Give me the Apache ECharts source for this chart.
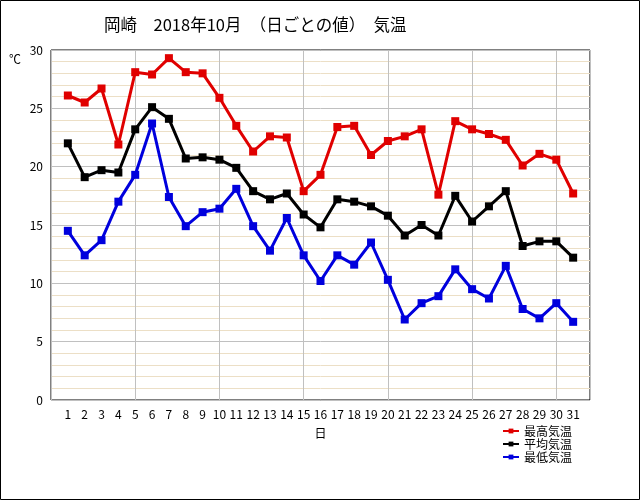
<!DOCTYPE html>
<html lang="ja">
<head>
<meta charset="UTF-8">
<title>岡崎 2018年10月 気温</title>
<style>
  html, body { margin: 0; padding: 0; background: #fff; }
  #main { width: 640px; height: 500px; }
</style>
</head>
<body>
<div id="main"></div>
<script src="https://cdn.jsdelivr.net/npm/echarts@6/dist/echarts.min.js"></script>
<script>
// 10月の日
var days = [1,2,3,4,5,6,7,8,9,10,11,12,13,14,15,16,17,18,19,20,21,22,23,24,25,26,27,28,29,30,31];
var maxTemp = [26.1,25.5,26.7,21.9,28.1,27.9,29.3,28.1,28.0,25.9,23.5,21.3,22.6,22.5,17.9,19.3,
  23.4,23.5,21.0,22.2,22.6,23.2,17.6,23.9,23.2,22.8,22.3,20.1,21.1,20.6,17.7];
var avgTemp = [22.0,19.1,19.7,19.5,23.2,25.1,24.1,20.7,20.8,20.6,19.9,17.9,17.2,17.7,15.9,14.8,
  17.2,17.0,16.6,15.8,14.1,15.0,14.1,17.5,15.3,16.6,17.9,13.2,13.6,13.6,12.2];
var minTemp = [14.5,12.4,13.7,17.0,19.3,23.7,17.4,14.9,16.1,16.4,18.1,14.9,12.8,15.6,12.4,10.2,
  12.4,11.6,13.5,10.3,6.9,8.3,8.9,11.2,9.5,8.7,11.5,7.8,7.0,8.3,6.7];

function pairs(vals) {
  return days.map(function (d, i) { return [d, vals[i]]; });
}

var font = '"Noto Sans CJK JP", sans-serif';

var myChart = echarts.init(document.getElementById('main'));
var option = {
  animation: false,
  backgroundColor: '#fff',
  textStyle: { fontFamily: font },
  title: {
    text: '岡崎　2018年10月　（日ごとの値）　気温',
    left: 99,
    top: 11,
    textStyle: { fontSize: 16.5, fontWeight: 'normal', color: '#000', fontFamily: font }
  },
  graphic: [
    { type: 'rect', shape: { x: 0.5, y: 0.5, width: 639, height: 499 },
      style: { fill: 'none', stroke: '#000', lineWidth: 1 } },
    { type: 'text', left: 9, top: 53, style: { text: '℃', fontSize: 12, fill: '#000', fontFamily: font } }
  ],
  legend: {
    orient: 'vertical',
    left: 497,
    top: 420,
    itemWidth: 16,
    itemHeight: 6,
    itemGap: 1,
    textStyle: { fontSize: 12, lineHeight: 12, color: '#000', fontFamily: font },
    data: ['最高気温', '平均気温', '最低気温']
  },
  grid: {
    left: 51, right: 50, top: 50, bottom: 100,
    show: true, borderColor: '#000', borderWidth: 1, backgroundColor: '#fff'
  },
  xAxis: [{
    type: 'value', min: 0, max: 32, interval: 1,
    name: '日', nameLocation: 'middle', nameGap: 27,
    nameTextStyle: { fontSize: 12, color: '#000' },
    axisLine: { show: false }, axisTick: { show: false },
    splitLine: { show: false },
    axisLabel: {
      color: '#000', fontSize: 12, margin: 8,
      formatter: function (v) { return (v < 1 || v > 31) ? '' : v; }
    }
  }, {
    type: 'value', min: 0, max: 32, interval: 5, position: 'bottom',
    axisLine: { show: false }, axisTick: { show: false }, axisLabel: { show: false },
    splitLine: { show: true, lineStyle: { color: '#c0c0c0', width: 1 } }
  }],
  yAxis: {
    type: 'value', min: 0, max: 30, interval: 5,
    axisLine: { show: false }, axisTick: { show: false },
    axisLabel: { color: '#000', fontSize: 12, margin: 8 },
    splitLine: { show: true, lineStyle: { color: '#c0c0c0', width: 1 } },
    minorTick: { show: false, splitNumber: 5 },
    minorSplitLine: { show: true, lineStyle: { color: '#ecdfc6', width: 1 } }
  },
  series: [{
    name: '最高気温', type: 'line', data: pairs(maxTemp),
    symbol: 'rect', symbolSize: 8,
    lineStyle: { color: '#e00000', width: 3 }, itemStyle: { color: '#e00000' }
  }, {
    name: '平均気温', type: 'line', data: pairs(avgTemp),
    symbol: 'rect', symbolSize: 8,
    lineStyle: { color: '#000', width: 3 }, itemStyle: { color: '#000' }
  }, {
    name: '最低気温', type: 'line', data: pairs(minTemp),
    symbol: 'rect', symbolSize: 8,
    lineStyle: { color: '#0000dd', width: 3 }, itemStyle: { color: '#0000dd' }
  }]
};
myChart.setOption(option);
</script>
</body>
</html>
